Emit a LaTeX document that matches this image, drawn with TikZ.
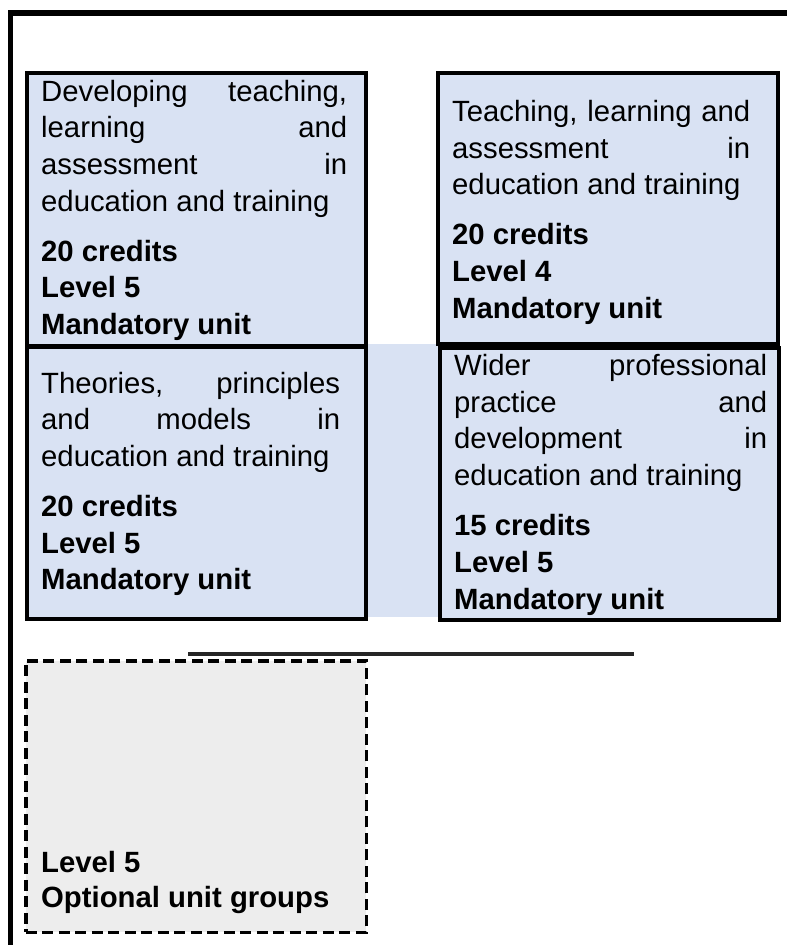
\documentclass[tikz,border=0pt]{standalone}
\usepackage{fontspec}
\setmainfont{Liberation Sans}
\definecolor{unitblue}{HTML}{D9E2F3}
\definecolor{optgray}{HTML}{EDEDED}
\newcommand\jl[2]{\hbox to #1{#2}}
\newcommand\nl[2]{\hbox to #1{#2\hfil}}
\newcommand\bl[2]{\hbox to #1{\bfseries #2\hfil}}
\newcommand\pgap{\vskip13.3pt}
\begin{document}
\begin{tikzpicture}[x=1pt,y=-1pt,
  framestyle/.style={line width=5.5pt, line cap=butt, line join=miter},
  unitbox/.style={draw=black, line width=4pt, fill=unitblue, inner sep=0pt},
  bridge/.style={fill=unitblue, draw=none, inner sep=0pt},
  optbox/.style={draw=black, line width=3.5pt, fill=optgray, dash pattern=on 11pt off 5.5pt, inner sep=0pt},
  rulestyle/.style={line width=4pt, draw=black!85},
  txt/.style={inner sep=0pt, anchor=base west, font=\fontsize{29.3pt}{36.7pt}\selectfont}]
\useasboundingbox (0,0) rectangle (787,945);
\fill[white] (0,0) rectangle (787,945);
% outer frame
\coordinate (fb) at (10.5,945);
\coordinate (fc) at (10.5,12.8);
\coordinate (fr) at (787,12.8);
\draw[framestyle] (fb) -- (fc) -- (fr);
% middle light blue band
\node[bridge, minimum width=74pt, minimum height=273pt] (mid) at (403,480.5) {};
% unit boxes
\node[unitbox, minimum width=339pt, minimum height=273pt] (boxA) at (196.5,209.5) {};
\node[unitbox, minimum width=339pt, minimum height=272pt] (boxC) at (196.5,483) {};
\node[unitbox, minimum width=340pt, minimum height=271pt] (boxB) at (608,208.5) {};
\node[unitbox, minimum width=339pt, minimum height=272pt] (boxD) at (609.5,484) {};
% optional box
\node[optbox, minimum width=340.5pt, minimum height=271.5pt] (boxE) at (196,796.5) {};
% horizontal rule
\coordinate (ra) at (188,654);
\coordinate (rb) at (634,654);
\draw[rulestyle] (ra) -- (rb);
% texts
\node[txt] (tA) at (41,101) {\vtop{%
 \jl{306pt}{Developing teaching,}
 \jl{306pt}{learning and}
 \jl{306pt}{assessment in}
 \nl{306pt}{education and training}
 \pgap
 \bl{306pt}{20 credits}
 \bl{306pt}{Level 5}
 \bl{306pt}{Mandatory unit}}};
\node[txt] (tB) at (452,121.5) {\vtop{%
 \jl{298pt}{Teaching, learning and}
 \jl{298pt}{assessment in}
 \nl{298pt}{education and training}
 \pgap
 \bl{298pt}{20 credits}
 \bl{298pt}{Level 4}
 \bl{298pt}{Mandatory unit}}};
\node[txt] (tC) at (41,393) {\vtop{%
 \jl{299pt}{Theories, principles}
 \jl{299pt}{and models in}
 \nl{299pt}{education and training}
 \pgap
 \bl{299pt}{20 credits}
 \bl{299pt}{Level 5}
 \bl{299pt}{Mandatory unit}}};
\node[txt] (tD) at (454,375.5) {\vtop{%
 \jl{313pt}{Wider professional}
 \jl{313pt}{practice and}
 \jl{313pt}{development in}
 \nl{313pt}{education and training}
 \pgap
 \bl{313pt}{15 credits}
 \bl{313pt}{Level 5}
 \bl{313pt}{Mandatory unit}}};
\node[txt] (tE) at (41,872) {\vtop{\baselineskip=35pt
 \bl{300pt}{Level 5}
 \bl{300pt}{Optional unit groups}}};
\end{tikzpicture}
\end{document}
